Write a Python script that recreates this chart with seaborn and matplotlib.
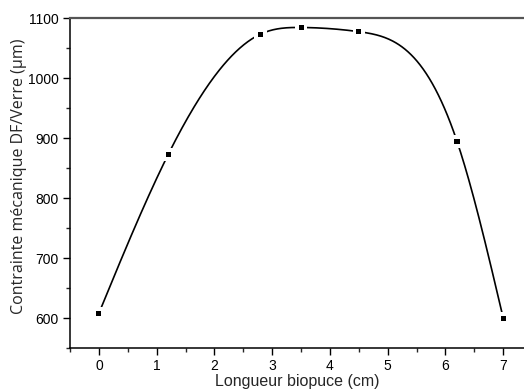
import numpy as np
import matplotlib
matplotlib.use("Agg")
import matplotlib.pyplot as plt
import seaborn as sns
from matplotlib.ticker import MultipleLocator

# data
longueur = [0.0, 1.2, 2.8, 3.5, 4.5, 6.2, 7.0]
contrainte = [608, 873, 1074, 1085, 1078, 895, 600]

x_label = "Longueur biopuce (cm)"
y_label = "Contrainte mécanique DF/Verre (µm)"


def natural_spline(x, y, n=400):
    """Natural cubic spline through the points (for the smooth connecting line)."""
    x = np.asarray(x, float)
    y = np.asarray(y, float)
    k = len(x)
    h = np.diff(x)
    A = np.zeros((k, k))
    b = np.zeros(k)
    A[0, 0] = A[-1, -1] = 1
    for i in range(1, k - 1):
        A[i, i - 1] = h[i - 1]
        A[i, i] = 2 * (h[i - 1] + h[i])
        A[i, i + 1] = h[i]
        b[i] = 6 * ((y[i + 1] - y[i]) / h[i] - (y[i] - y[i - 1]) / h[i - 1])
    m = np.linalg.solve(A, b)
    xs = np.linspace(x[0], x[-1], n)
    idx = np.clip(np.searchsorted(x, xs) - 1, 0, k - 2)
    x0, x1 = x[idx], x[idx + 1]
    hh = x1 - x0
    t0, t1 = x1 - xs, xs - x0
    ys = (m[idx] * t0 ** 3 + m[idx + 1] * t1 ** 3) / (6 * hh) \
        + (y[idx] / hh - m[idx] * hh / 6) * t0 \
        + (y[idx + 1] / hh - m[idx + 1] * hh / 6) * t1
    return xs, ys


sns.set_style("ticks")
plt.rcParams["font.family"] = ["Liberation Sans", "DejaVu Sans"]

fig = plt.figure(figsize=(5.24, 3.90), dpi=100)
ax = fig.add_axes([0.1336, 0.1077, 0.8664, 0.8449])

xs, ys = natural_spline(longueur, contrainte)
sns.lineplot(x=xs, y=ys, color="black", linewidth=1.2, ax=ax, zorder=2,
             sort=False)
# white squares make the small gaps around the symbols
sns.scatterplot(x=longueur, y=contrainte, marker="s", s=80, color="white",
                edgecolor="none", ax=ax, zorder=3)
sns.scatterplot(x=longueur, y=contrainte, marker="s", s=13, color="black",
                edgecolor="none", ax=ax, zorder=4)

ax.set_xlim(-0.5, 7.36)
ax.set_ylim(550, 1100)
ax.xaxis.set_major_locator(MultipleLocator(1))
ax.xaxis.set_minor_locator(MultipleLocator(0.5))
ax.yaxis.set_major_locator(MultipleLocator(100))
ax.yaxis.set_minor_locator(MultipleLocator(50))

ax.spines["right"].set_visible(False)
ax.spines["top"].set_color("#555555")
ax.spines["top"].set_linewidth(1.6)
for s in ["left", "bottom"]:
    ax.spines[s].set_color("black")
    ax.spines[s].set_linewidth(1.1)

ax.tick_params(which="major", direction="out", length=5, width=1.0,
               labelsize=10, colors="black", pad=3)
ax.tick_params(which="minor", direction="out", length=3, width=1.0)
ax.tick_params(top=False, right=False, which="both")

ax.set_xlabel(x_label, fontsize=11.5, labelpad=1)
ax.set_ylabel(y_label, fontsize=11.5, family=["Open Sans", "DejaVu Sans"])
ax.yaxis.set_label_coords(-0.094, 0.52)

fig.savefig("out.png", dpi=100)
plt.close(fig)
